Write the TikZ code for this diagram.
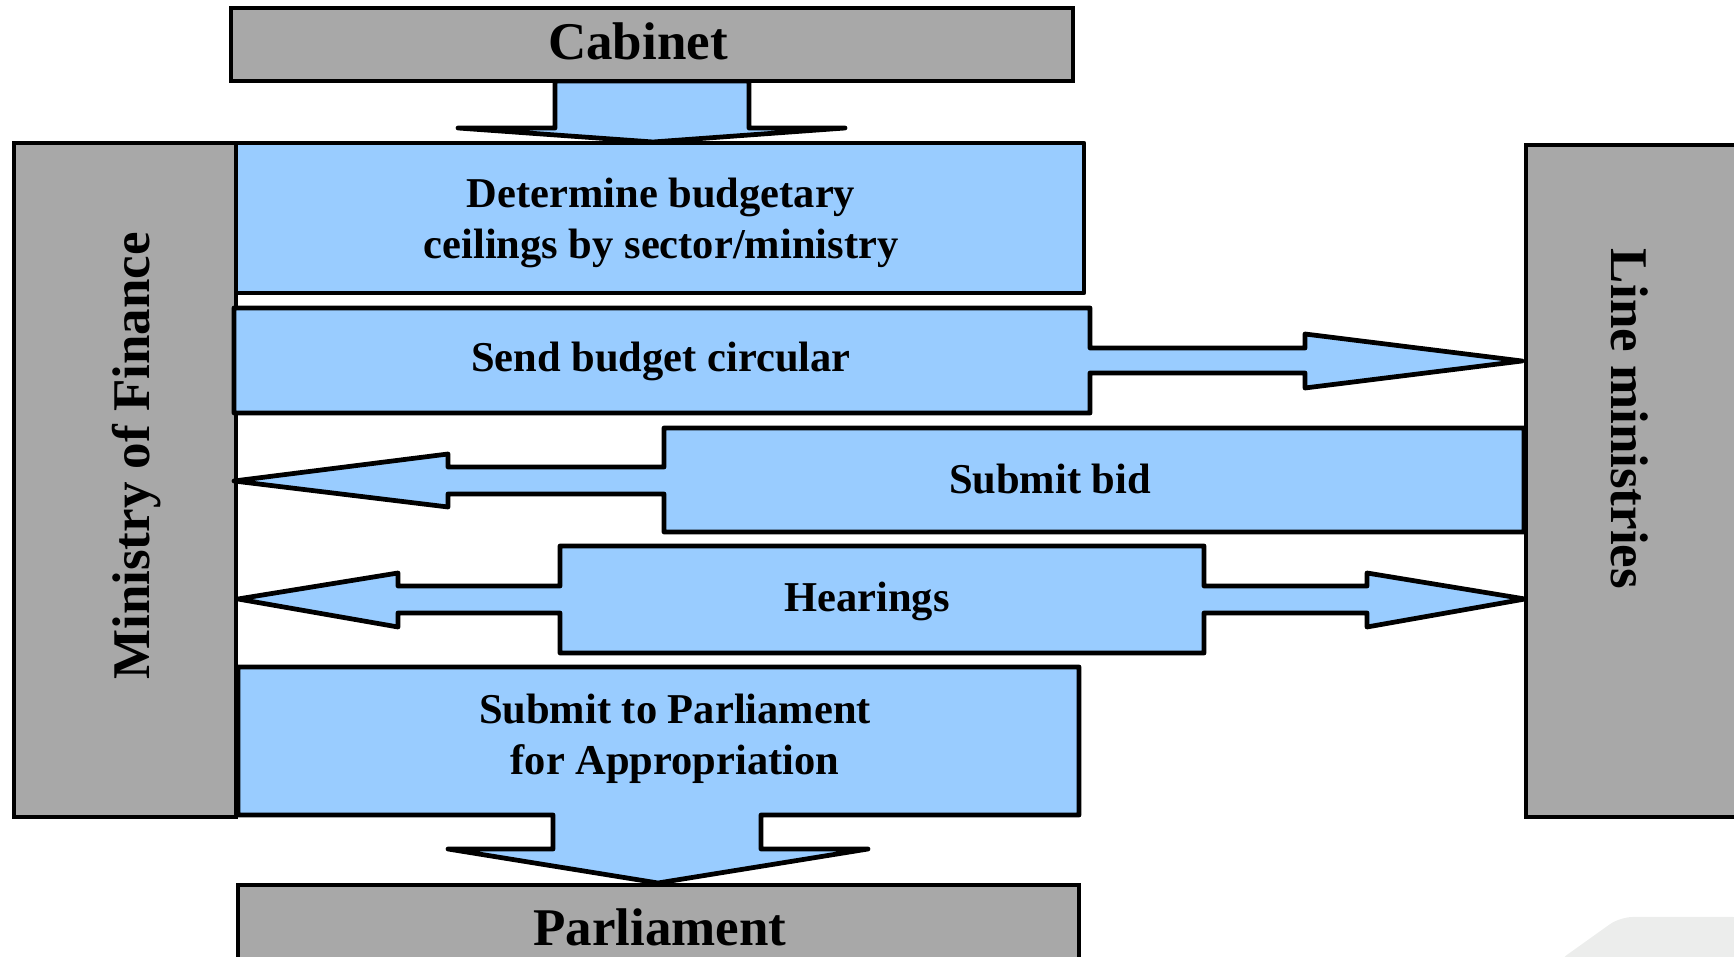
\documentclass[tikz,border=0pt]{standalone}
\usepackage{fontspec}
\setmainfont{Liberation Serif}
\definecolor{flowblue}{RGB}{153,204,255}
\definecolor{sidegray}{RGB}{168,168,168}
\definecolor{slidegray}{RGB}{236,237,236}
\usetikzlibrary{fit}
\tikzset{
  graybox/.style={draw=black, fill=sidegray, line width=1.9pt, inner sep=0pt},
  flow/.style={draw=black, fill=flowblue, line width=1.9pt, line join=round, line cap=round},
  bigtext/.style={font=\fontsize{21.2}{25}\selectfont\bfseries},
  steptext/.style={font=\fontsize{17}{20.4}\selectfont\bfseries, align=center},
}

\begin{document}
\begin{tikzpicture}[x=0.4pt, y=-0.4pt]
     \useasboundingbox (0,0) rectangle (1734,957);
     %slide corner
     \fill[slidegray, rounded corners=5pt] (1557,962) -- (1620,917) -- (1745,917) -- (1745,962) -- cycle;
     %side boxes
     \node[graybox, fit={(14,143) (236,817)}] (mof) {};
     \node[graybox, fit={(1526,145) (1760,817)}] (lm) {};
     \node[bigtext, rotate=90] (mof-text) at (137,456) {Ministry of Finance};
     \node[bigtext, rotate=-90] (lm-text) at (1630,419) {Line ministries};
     %cabinet arrow
     \draw[flow] (555,81) -- (555,128) -- (458,128) -- (653,142) -- (845,128) -- (749,128) -- (749,81) -- cycle;
     %row 1
     \draw[flow] (236,143) rectangle (1084,293);
     \node[steptext] (ceilings) at (661,223) {Determine budgetary\\ceilings by sector/ministry};
     %row 2
     \draw[flow] (234,308) -- (1090,308) -- (1090,348) -- (1305,348) -- (1305,334) -- (1522,361)
          -- (1305,388) -- (1305,373) -- (1090,373) -- (1090,413) -- (234,413) -- cycle;
     \node[steptext] (circular) at (661,361) {Send budget circular};
     %row 3
     \draw[flow] (1524,428) -- (664,428) -- (664,467) -- (448,467) -- (448,454) -- (234,481)
          -- (448,507) -- (448,494) -- (664,494) -- (664,532) -- (1524,532) -- cycle;
     \node[steptext] (bid) at (1050,479) {Submit bid};
     %row 4
     \draw[flow] (560,546) -- (1204,546) -- (1204,586) -- (1367,586) -- (1367,573) -- (1525,599)
          -- (1367,627) -- (1367,613) -- (1204,613) -- (1204,653) -- (560,653) -- (560,613)
          -- (398,613) -- (398,627) -- (238,599) -- (398,573) -- (398,586) -- (560,586) -- cycle;
     \node[steptext] (hearings) at (867,601) {Hearings};
     %row 5
     \draw[flow] (238,667) -- (1079,667) -- (1079,815) -- (761,815) -- (761,849) -- (868,849)
          -- (658,883) -- (448,849) -- (553,849) -- (553,815) -- (238,815) -- cycle;
     \node[steptext] (appropriation) at (675,739) {Submit to Parliament\\for Appropriation};
     %top and bottom
     \node[graybox, fit={(231,8) (1073,81)}] (cabinet) {};
     \node[bigtext] (cabinet-text) at (638,41) {Cabinet};
     \node[graybox, fit={(238,885) (1079,962)}] (parliament) {};
     \node[bigtext] (parliament-text) at (660,927) {Parliament};
\end{tikzpicture}
\end{document}
